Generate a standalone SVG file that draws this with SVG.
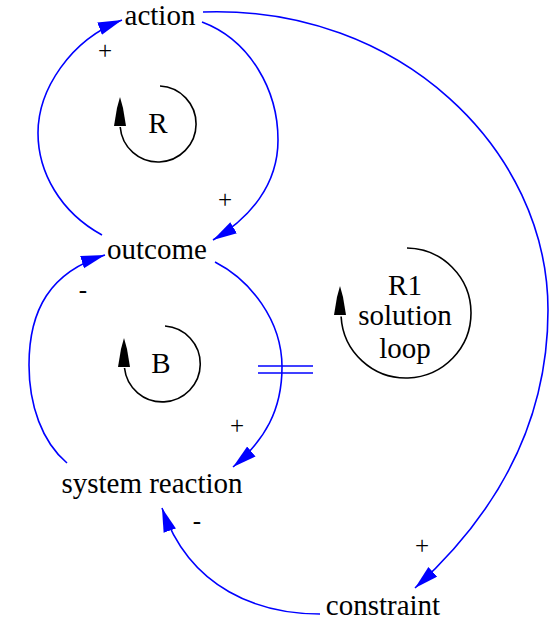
<svg xmlns="http://www.w3.org/2000/svg" width="550" height="621" viewBox="0 0 550 621">
<style>
  text { font-family: "Liberation Serif", "DejaVu Serif", serif; fill: #000; text-anchor: middle; }
  .lbl { font-size: 29px; }
  .sign { font-size: 25px; }
  .link { fill: none; stroke: #0000FF; stroke-width: 1.6; marker-end: url(#arrow); }
  .delay { fill: none; stroke: #0000FF; stroke-width: 1.6; }
  .loop { fill: none; stroke: #000; stroke-width: 1.6; }
  .loophead { fill: #000; stroke: none; }
</style>
<defs>
  <marker id="arrow" markerUnits="userSpaceOnUse" markerWidth="26" markerHeight="14" refX="24" refY="6.5" orient="auto">
    <path d="M0,0 L24,6.5 L0,13 Z" fill="#0000FF"/>
  </marker>
</defs>
<rect width="550" height="621" fill="#fff"/>

<g id="connectors">
  <g id="link-outcome-action">
    <path class="link" d="M102,235 C60,212 38,172 38,133 C38,90 70,40 122,20"/>
    <text class="sign" x="105" y="59">+</text>
  </g>
  <g id="link-action-outcome">
    <path class="link" d="M202,22 C250,40 278,90 278,140 C278,185 250,218 213,240"/>
    <text class="sign" x="225" y="208">+</text>
  </g>
  <g id="link-systemreaction-outcome">
    <path class="link" d="M67,463 C42,442 29,405 29,365 C29,310 50,272 105,255"/>
    <text class="sign" x="83" y="298">-</text>
  </g>
  <g id="link-outcome-systemreaction">
    <path class="link" d="M215,262 C250,280 282,320 282,367 C282,410 265,440 233,467"/>
    <line class="delay" x1="258" y1="366" x2="313" y2="366"/>
    <line class="delay" x1="258" y1="373" x2="313" y2="373"/>
    <text class="sign" x="237" y="434">+</text>
  </g>
  <g id="link-action-constraint">
    <path class="link" d="M203,12 C400,5 548,150 548,310 C548,430 490,520 415,588"/>
    <text class="sign" x="422" y="554">+</text>
  </g>
  <g id="link-constraint-systemreaction">
    <path class="link" d="M320,614 C260,614 190,590 162,508"/>
    <text class="sign" x="197" y="529">-</text>
  </g>
</g>

<g id="loop-R">
  <path class="loop" d="M160,86 A38,38 0 1 1 120.2,127"/>
  <path class="loophead" d="M120,97 L123,108 L126,126 L114,126 L117,108 Z"/>
  <text class="lbl" x="158" y="133">R</text>
</g>
<g id="loop-B">
  <path class="loop" d="M165,326 A38,38 0 1 1 124.5,368"/>
  <path class="loophead" d="M124,338 L127,349 L130,367 L118,367 L121,349 Z"/>
  <text class="lbl" x="161" y="373">B</text>
</g>
<g id="loop-R1">
  <path class="loop" d="M407,248 A65,65 0 1 1 341.1,316.5"/>
  <path class="loophead" d="M340,286 L343,297 L346,315 L334,315 L337,297 Z"/>
  <text class="lbl" x="405" y="295">R1</text>
  <text class="lbl" x="405" y="325">solution</text>
  <text class="lbl" x="405" y="358">loop</text>
</g>

<g id="node-action"><text class="lbl" x="160" y="25">action</text></g>
<g id="node-outcome"><text class="lbl" x="157" y="259">outcome</text></g>
<g id="node-system-reaction"><text class="lbl" x="152" y="493">system reaction</text></g>
<g id="node-constraint"><text class="lbl" x="383" y="615">constraint</text></g>
</svg>
